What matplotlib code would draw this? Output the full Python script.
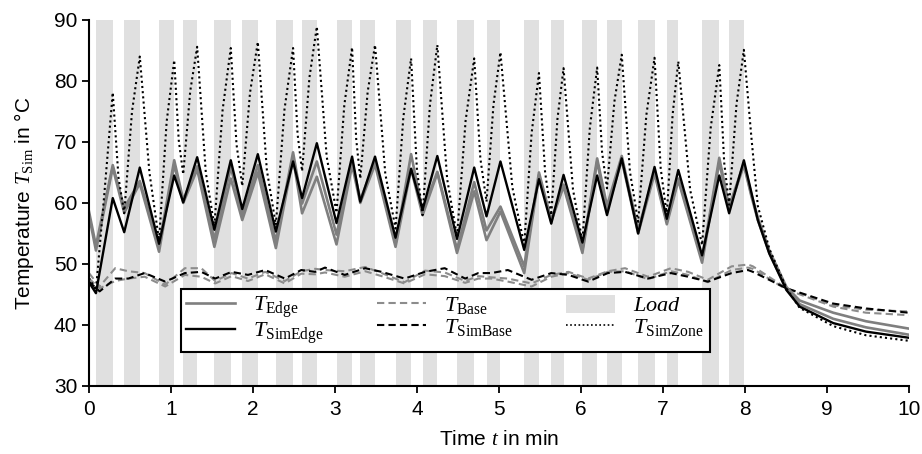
import matplotlib
matplotlib.use("Agg")
import matplotlib.pyplot as plt
from matplotlib.lines import Line2D
from matplotlib.patches import Patch
import numpy as np

# load intervals (min)
load_start = [0.085, 0.43, 0.855, 1.15, 1.53, 1.87, 2.28, 2.60, 3.02, 3.31, 3.74,
              4.07, 4.49, 4.85, 5.31, 5.64, 6.02, 6.32, 6.70, 7.05, 7.48, 7.81]
load_end = [0.29, 0.62, 1.04, 1.32, 1.73, 2.06, 2.49, 2.78, 3.21, 3.49, 3.93,
            4.25, 4.70, 5.02, 5.49, 5.79, 6.20, 6.50, 6.90, 7.19, 7.69, 7.99]

# zone temperature: trough at load start, value mid-load, peak at load end,
# value in the middle of each pause
zone_start = 47.7
zone_trough = [45.7, 58.3, 53.8, 64.7, 56.2, 62.8, 56.4, 65.2, 58.4, 64.0, 55.8,
               58.0, 54.5, 60.2, 53.1, 58.0, 53.7, 62.4, 56.9, 58.0, 53.1, 59.7]
zone_rise = [61.5, 75.0, 73.3, 78.3, 75.2, 78.1, 75.3, 80.6, 76.0, 78.2, 74.0,
             76.1, 73.5, 76.1, 71.4, 73.7, 72.2, 76.6, 74.4, 74.4, 72.3, 76.2]
zone_peak = [78.1, 84.0, 83.4, 85.6, 85.4, 86.4, 85.4, 88.9, 85.5, 85.9, 83.7,
             85.9, 83.7, 84.7, 81.3, 82.1, 82.2, 84.3, 83.8, 83.2, 82.6, 85.1]
zone_pause = [64.2, 65.0, 70.3, 65.0, 69.6, 65.4, 71.3, 67.6, 70.5, 64.8, 65.7,
              63.9, 67.3, 62.6, 65.0, 62.2, 68.3, 65.1, 65.7, 62.1, 66.6]

simedge_start = 47.0
simedge_trough = [45.2, 55.2, 53.3, 60.1, 55.6, 59.0, 55.3, 60.8, 56.7, 60.2, 54.3,
                  58.9, 54.1, 57.8, 52.3, 56.6, 53.5, 58.0, 55.0, 57.4, 51.4, 58.3]
simedge_peak = [60.8, 65.8, 64.5, 67.5, 67.0, 68.0, 66.8, 69.8, 67.6, 67.6, 65.6,
                67.7, 65.8, 66.8, 63.9, 64.6, 64.5, 67.3, 65.9, 65.4, 64.5, 67.0]

edge_a_start = 58.6
edge_a_trough = [53.0, 59.2, 53.0, 60.5, 54.0, 58.0, 53.7, 59.9, 54.8, 60.5, 53.3,
                 58.6, 52.4, 55.5, 49.6, 57.2, 52.3, 59.5, 55.6, 56.9, 50.7, 59.4]
edge_a_peak = [66.2, 63.6, 67.0, 66.0, 65.9, 66.2, 68.3, 66.8, 66.8, 66.8, 68.0,
               65.1, 63.4, 59.4, 65.0, 63.0, 67.3, 67.7, 65.1, 64.0, 67.4, 66.5]

edge_b_start = 58.0
edge_b_trough = [52.2, 58.4, 52.0, 60.0, 52.8, 57.2, 52.6, 58.3, 53.2, 60.0, 52.8,
                 58.0, 51.8, 53.9, 48.5, 57.0, 51.8, 58.8, 55.0, 56.5, 50.2, 59.0]
edge_b_peak = [65.8, 63.2, 66.3, 65.5, 64.0, 65.0, 67.3, 64.3, 66.2, 66.3, 65.6,
               64.9, 61.9, 58.6, 64.6, 62.7, 66.8, 67.0, 64.8, 63.7, 66.7, 66.2]

# cooling after the last load
tail_t = [8.08, 8.16, 8.30, 8.51, 8.67, 9.08, 9.48, 10.0]
zone_tail = [71.0, 59.5, 52.5, 46.0, 42.8, 39.8, 38.3, 37.4]
simedge_tail = [61.8, 57.2, 51.7, 45.7, 43.0, 40.3, 38.9, 37.9]
edge_a_tail = [61.5, 57.6, 52.2, 46.2, 44.0, 42.0, 40.6, 39.4]
edge_b_tail = [61.2, 57.2, 51.8, 45.8, 43.4, 41.0, 39.6, 38.4]

# base temperatures
base_t = [0, 0.13, 0.32, 0.48, 0.68, 0.93, 1.17, 1.37, 1.54, 1.74, 1.94, 2.15, 2.39,
          2.59, 2.76, 2.88, 3.12, 3.37, 3.57, 3.85, 4.1, 4.34, 4.59, 4.75, 4.91,
          5.11, 5.40, 5.64, 5.85, 6.09, 6.33, 6.54, 6.82, 7.1, 7.31, 7.55, 7.84,
          8.04, 8.1, 8.51, 9.08, 9.48, 10.0]
simbase = [47.1, 45.5, 47.6, 47.6, 48.5, 47.1, 48.5, 48.7, 47.6, 48.7, 48.2, 49.0, 47.6,
           49.0, 48.7, 49.4, 48.2, 49.3, 48.7, 47.6, 48.7, 49.3, 47.6, 48.5, 48.5,
           49.0, 47.4, 48.5, 48.2, 47.1, 48.5, 48.7, 47.6, 48.5, 47.9, 47.1, 48.5,
           49.0, 48.7, 46.0, 43.5, 42.7, 42.0]
base_a = [48.5, 46.3, 49.3, 48.8, 48.5, 46.6, 49.3, 49.3, 47.2, 48.5, 47.6, 48.7, 47.2,
          48.8, 49.2, 49.0, 48.8, 49.5, 48.5, 47.0, 48.9, 48.6, 47.2, 48.0, 47.8,
          47.6, 46.8, 48.2, 48.7, 47.6, 48.8, 49.3, 47.9, 49.3, 48.7, 47.4, 49.6,
          49.9, 49.6, 46.0, 43.2, 42.5, 42.2]
base_b = [47.6, 46.0, 47.2, 47.6, 47.9, 46.3, 48.2, 47.9, 46.8, 48.0, 47.2, 48.3, 46.8,
          48.4, 48.3, 48.6, 47.9, 48.8, 48.0, 46.8, 48.3, 48.0, 46.9, 47.6, 47.6,
          47.1, 46.3, 47.9, 48.5, 47.4, 48.7, 48.8, 47.5, 48.8, 48.2, 47.0, 49.0,
          49.4, 49.2, 45.8, 43.0, 42.0, 41.6]


def build(start, troughs, peaks, tail):
    t = [0.0]
    v = [start]
    for s, e, lo, hi in zip(load_start, load_end, troughs, peaks):
        t += [s, e]
        v += [lo, hi]
    return t + tail_t, v + tail


def build_zone():
    t = [0.0]
    v = [zone_start]
    n = len(load_start)
    for i in range(n):
        s, e = load_start[i], load_end[i]
        t += [s, (s + e) / 2, e]
        v += [zone_trough[i], zone_rise[i], zone_peak[i]]
        if i < n - 1:
            t.append((e + load_start[i + 1]) / 2)
            v.append(zone_pause[i])
    return t + tail_t, v + zone_tail


plt.rcParams['font.family'] = ['Liberation Sans', 'DejaVu Sans']
plt.rcParams['mathtext.fontset'] = 'custom'
plt.rcParams['mathtext.rm'] = 'Liberation Serif'
plt.rcParams['mathtext.it'] = 'Liberation Serif:italic'

fig = plt.figure(figsize=(9.22, 4.54), dpi=100)
ax = fig.add_axes([0.0965, 0.150, 0.889, 0.806])

load_color = '#e0e0e0'
for s, e in zip(load_start, load_end):
    ax.axvspan(s, e, color=load_color, lw=0, zorder=0)

gray = '#7f7f7f'
lgray = '#8c8c8c'
dash = (0, (3.5, 2))
ax.plot(base_t, base_a, color=lgray, ls=dash, lw=1.5)
ax.plot(base_t, base_b, color=lgray, ls=dash, lw=1.5)
ax.plot(base_t, simbase, color='black', ls=dash, lw=1.5)

t, v = build(edge_a_start, edge_a_trough, edge_a_peak, edge_a_tail)
ax.plot(t, v, color=gray, lw=1.9)
t, v = build(edge_b_start, edge_b_trough, edge_b_peak, edge_b_tail)
ax.plot(t, v, color=gray, lw=1.9)
t, v = build(simedge_start, simedge_trough, simedge_peak, simedge_tail)
ax.plot(t, v, color='black', lw=1.7)
t, v = build_zone()
ax.plot(t, v, color='black', ls=(0, (1, 1.5)), lw=1.5)

ax.set_xlim(0, 10)
ax.set_ylim(30, 90)
ax.set_xticks(np.arange(0, 11, 1))
ax.set_yticks(np.arange(30, 91, 10))
ax.tick_params(labelsize=15, width=1.3, length=5, direction='out')
ax.tick_params(axis='x', pad=5)
for side in ['top', 'right']:
    ax.spines[side].set_visible(False)
for side in ['left', 'bottom']:
    ax.spines[side].set_linewidth(1.5)

ax.set_xlabel('Time $t$ in min', fontsize=15, labelpad=8)
ax.set_ylabel('Temperature $T_{\\mathrm{Sim}}$ in °C', fontsize=15, labelpad=13)

handles = [Line2D([], [], color=gray, lw=1.9),
           Line2D([], [], color='black', lw=1.7),
           Line2D([], [], color=lgray, ls=dash, lw=1.5),
           Line2D([], [], color='black', ls=dash, lw=1.5),
           Patch(facecolor=load_color, edgecolor='none'),
           Line2D([], [], color='black', ls=(0, (1, 1.5)), lw=1.2)]
labels = ['$T_{\\mathrm{Edge}}$', '$T_{\\mathrm{SimEdge}}$',
          '$T_{\\mathrm{Base}}$', '$T_{\\mathrm{SimBase}}$',
          '$Load$', '$T_{\\mathrm{SimZone}}$']
leg = ax.legend(handles, labels, ncol=3, loc='lower center',
                bbox_to_anchor=(0.4345, 0.093), fontsize=16, frameon=True,
                fancybox=False, framealpha=1, edgecolor='black',
                handlelength=2.2, handleheight=0.9, columnspacing=2.4,
                borderpad=0.25, labelspacing=0.0, handletextpad=0.8,
                borderaxespad=0)
leg.get_frame().set_linewidth(1.5)

fig.savefig('out.png', dpi=100)
